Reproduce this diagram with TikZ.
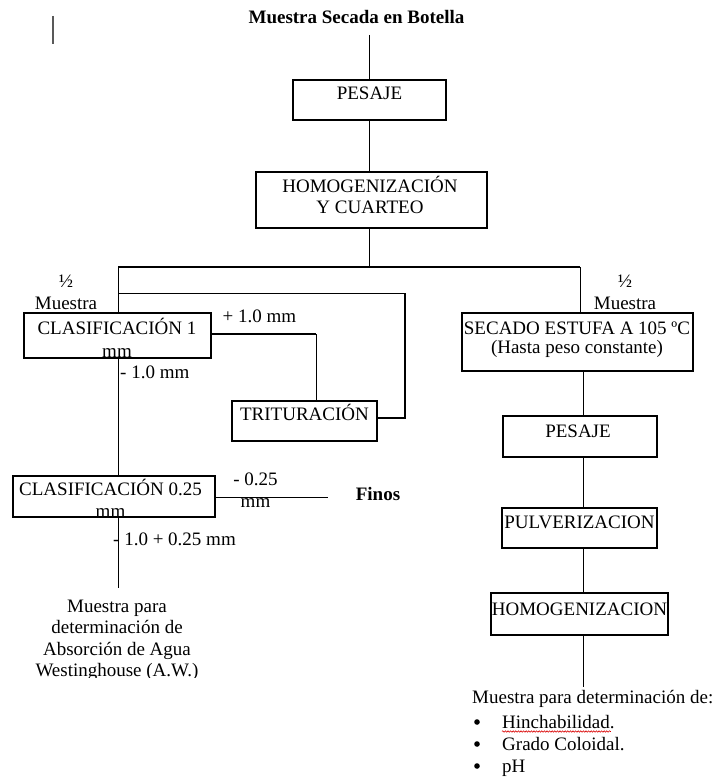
\documentclass[tikz,border=0pt]{standalone}
\usepackage{fontspec}
\setmainfont{Liberation Serif}
\usetikzlibrary{decorations.pathmorphing}
\newcommand{\stk}[1]{\begin{tabular}[t]{@{}c@{}}#1\end{tabular}}
\begin{document}
\begin{tikzpicture}[x=1pt,y=-1pt,
  box/.style={draw, line width=1.1pt, inner sep=0pt, rectangle},
  txt/.style={inner sep=0pt, anchor=base, font=\fontsize{19}{22}\selectfont},
  txtw/.style={txt, anchor=base west},
  thinline/.style={line width=0.9pt},
  thickline/.style={line width=2.6pt, line join=miter},
  bul/.style={circle, fill, inner sep=0pt, minimum size=5.6pt}]
\useasboundingbox (0,0) rectangle (718,781);
% cursor bar
\draw[line width=1.8pt, black!65] (53,16) -- (53,44);
% boxes
\node[box, minimum width=153, minimum height=40] (pes1) at (369.5,100) {};
\node[box, minimum width=231, minimum height=56] (hom)  at (371.5,200) {};
\node[box, minimum width=187, minimum height=45] (cl1)  at (117.5,335.5) {};
\node[box, minimum width=145, minimum height=40] (tri)  at (304.5,421) {};
\node[box, minimum width=202, minimum height=41] (cl2)  at (114,496.5) {};
\node[box, minimum width=231, minimum height=58] (sec)  at (577.5,342) {};
\node[box, minimum width=154, minimum height=41] (pes2) at (580,436.5) {};
\node[box, minimum width=155, minimum height=40] (pul)  at (579.5,528) {};
\node[box, minimum width=177, minimum height=42] (hom2) at (579.5,614) {};
% box texts
\node[txt, font=\fontsize{19}{22}\selectfont\bfseries] (title) at (356.5,24) {Muestra Secada en Botella};
\node[txt] (pes1t) at (369.5,100) {PESAJE};
\node[txt, font=\fontsize{19}{21}\selectfont] (homt) at (370,192) {\stk{HOMOGENIZACIÓN\\Y CUARTEO}};
\node[txt, font=\fontsize{19}{23}\selectfont] (cl1t) at (117,334) {\stk{CLASIFICACIÓN 1\\mm}};
\node[txt] (trit) at (304.5,420) {TRITURACIÓN};
\node[txt] (cl2t) at (110.5,495) {\stk{CLASIFICACIÓN 0.25\\mm}};
\node[txt, font=\fontsize{19}{19.5}\selectfont] (sect) at (577,334) {\stk{SECADO ESTUFA A 105 ºC\\(Hasta peso constante)}};
\node[txt] (pes2t) at (578,437) {PESAJE};
\node[txt] (pult) at (579.5,528) {PULVERIZACION};
\node[txt] (hom2t) at (579.5,615) {HOMOGENIZACION};
% labels
\node[txt] (halfL) at (66,287) {\stk{½\\Muestra}};
\node[txt] (halfR) at (625,287) {\stk{½\\Muestra}};
\node[txt] (plus) at (259.5,322) {+ 1.0 mm};
\node[txtw] (minus1) at (120,378) {- 1.0 mm};
\node[txt] (m025) at (255.5,485) {\stk{- 0.25\\mm}};
\node[txt, font=\fontsize{19}{22}\selectfont\bfseries] (finos) at (378,500) {Finos};
\node[txtw] (m1025) at (113,545) {- 1.0 + 0.25 mm};
\begin{scope}
\clip (0,0) rectangle (718,677);
\node[txt, font=\fontsize{19}{21.5}\selectfont] (aw) at (117,612) {\stk{Muestra para\\determinación de\\Absorción de Agua\\Westinghouse (A.W.)}};
\end{scope}
\node[txtw] (mpd) at (472,703) {Muestra para determinación de:};
\node[txtw] (li1) at (502,728) {Hinchabilidad.};
\node[txtw] (li2) at (502,750) {Grado Coloidal.};
\node[txtw] (li3) at (502,772) {pH};
\node[bul] (b1) at (477,722) {};
\node[bul] (b2) at (477,744) {};
\node[bul] (b3) at (477,766) {};
\draw[red!85!black, line width=0.6pt, decorate, decoration={snake, amplitude=0.7pt, segment length=2.6pt}]
  ([yshift=-3.5pt]li1.base west) -- ([yshift=-3.5pt, xshift=-4pt]li1.base east);
% connectors
\coordinate (t0) at (369,35);
\coordinate (j0) at (369,267);
\coordinate (jL) at (118,267);
\coordinate (jR) at (580,267);
\draw[thinline] (t0) -- (t0 |- pes1.north);
\draw[thinline] (pes1.south -| t0) -- (hom.north -| t0);
\draw[thinline] (hom.south -| j0) -- (j0);
\draw[thickline] (jL) -- (jR);
\draw[thinline] (jL) -- (jL |- cl1.north);
\draw[thinline] (jR) -- (jR |- sec.north);
% recycle of crushed material
\coordinate (r1) at (118,293);
\coordinate (r2) at (405,293);
\coordinate (r3) at (405,418);
\draw[thinline] (r1) -- (r2);
\draw[thickline] (r2) -- (r3) -- (tri.east |- r3);
% +1.0 mm to trituracion
\coordinate (c1) at (316,334);
\draw[thickline] (cl1.east |- c1) -- (c1);
\draw[thinline] (c1) -- (c1 |- tri.north);
% -1.0 mm
\draw[thinline] (cl1.south -| jL) -- (cl2.north -| jL);
\coordinate (f1) at (328,497);
\draw[thinline] (cl2.east |- f1) -- (f1);
\coordinate (a1) at (118,588);
\draw[thinline] (cl2.south -| a1) -- (a1);
% right column
\coordinate (rc) at (583,400);
\draw[thinline] (sec.south -| rc) -- (pes2.north -| rc);
\draw[thinline] (pes2.south -| rc) -- (pul.north -| rc);
\draw[thinline] (pul.south -| rc) -- (hom2.north -| rc);
\coordinate (e1) at (583,687);
\draw[thinline] (hom2.south -| e1) -- (e1);
\end{tikzpicture}
\end{document}
